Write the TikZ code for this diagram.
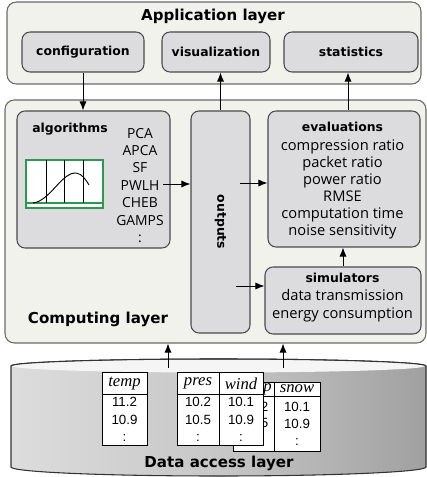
\documentclass[tikz,border=0pt]{standalone}
\usepackage{fontspec}
\setmainfont{Open Sans}
\newfontfamily\headfont{DejaVu Sans}
\newfontfamily\numfont{Liberation Sans}
\newfontfamily\colfont{Liberation Serif}
\usetikzlibrary{arrows.meta,positioning,calc}
\definecolor{LayFill}{HTML}{F2F2ED}
\definecolor{LayDraw}{HTML}{6A6A6A}
\definecolor{BoxFill}{HTML}{DCDCDF}
\definecolor{BoxDraw}{HTML}{4A4A4A}
\definecolor{PlotGreen}{HTML}{2A9A4C}
\pgfdeclarehorizontalshading{dbshade}{100bp}{color(0bp)=(black!5); color(50bp)=(black!22); color(88bp)=(black!45); color(100bp)=(black!33)}

\begin{document}
\begin{tikzpicture}[x=0.75pt,y=-0.75pt,
  lay/.style={draw=LayDraw,line width=0.8pt,rounded corners=7pt,fill=LayFill},
  b/.style={draw=BoxDraw,line width=0.8pt,rounded corners=6pt,fill=BoxFill},
  ttl/.style={font=\headfont\bfseries\fontsize{11.3}{13}\selectfont},
  hd/.style={font=\headfont\bfseries\fontsize{9.3}{11}\selectfont},
  lst/.style={align=center,inner sep=0pt,font=\fontsize{10.4}{13.1}\selectfont},
  col/.style={draw=black,line width=0.6pt,fill=white,inner sep=0pt},
  colhd/.style={inner sep=0pt,font=\colfont\itshape\fontsize{12.5}{14}\selectfont},
  val/.style={align=center,inner sep=0pt,font=\numfont\fontsize{10}{13}\selectfont},
  ar/.style={-{Latex[length=2.4mm,width=1.9mm]},black,line width=0.7pt}]
  \useasboundingbox (0,0) rectangle (427,477);

  % application layer
  \node[lay,minimum width=310.5pt,minimum height=61.5pt] (app) at (214,43) {};
  \node[ttl] (apptitle) at (213,16) {Application layer};
  \node[b,hd,minimum width=91.5pt,minimum height=30pt] (conf) at (83,52) {configuration};
  \node[b,hd,minimum width=81pt,minimum height=30pt] (vis) at (216,52) {visualization};
  \node[b,hd,minimum width=100.5pt,minimum height=30pt] (stat) at (351,52) {statistics};

  % computing layer
  \node[lay,minimum width=315.75pt,minimum height=182.25pt] (comp) at (215.5,221.5) {};
  \node[ttl] (comptitle) at (98,319) {Computing layer};
  \node[b,minimum width=114.75pt,minimum height=102.75pt] (algo) at (93.5,179.5) {};
  \node[hd] (algotitle) at (70,129) {algorithms};
  \node[lst] (alist) at (140,185.5) {PCA\\APCA\\SF\\PWLH\\CHEB\\GAMPS\\:};
  \draw[PlotGreen,fill=white,line width=0.8pt] (26,160) rectangle (103,208);
  \draw[PlotGreen,line width=0.8pt] (26,203) -- (103,203);
  \foreach \vx in {46,64,83}
    \draw[black,line width=0.6pt] (\vx,160) -- (\vx,203);
  \draw[black,line width=0.7pt] (33,203) .. controls (50,201) and (62,172) .. (76,173) .. controls (82,173.5) and (86,180) .. (89,185);
  \node[b,minimum width=44.25pt,minimum height=166.5pt] (out) at (220.5,222) {};
  \node[hd,rotate=-90] (outtitle) at (out.center) {outputs};
  \node[b,minimum width=114pt,minimum height=102pt] (eval) at (344,179) {};
  \node[hd] (evaltitle) at (342.5,127) {evaluations};
  \node[lst,font=\fontsize{11}{12.75}\selectfont] (elist) at (342.5,189.5) {compression ratio\\packet ratio\\power ratio\\RMSE\\computation time\\noise sensitivity};
  \node[b,minimum width=117pt,minimum height=50.25pt] (sim) at (343,300.5) {};
  \node[hd] (simtitle) at (342.5,278) {simulators};
  \node[lst,font=\fontsize{11}{13.5}\selectfont] (slist) at (342.5,306) {data transmission\\energy consumption};

  % data access layer
  \fill[shading=dbshade,draw=black!80,line width=0.8pt] (11,366) -- (11,467) arc[start angle=180,end angle=0,x radius=207.5,y radius=9] -- (426,366) arc[start angle=0,end angle=-180,x radius=207.5,y radius=7] -- cycle;
  \fill[black!4] (218.5,366) ellipse[x radius=206.5,y radius=6.5];
  \draw[black!80,line width=0.8pt] (426,366) arc[start angle=0,end angle=-180,x radius=207.5,y radius=7];
  \node[ttl] (dbtitle) at (219,463) {Data access layer};

  % table behind, mostly hidden
  \node[col,minimum width=30.75pt,minimum height=51.75pt] (tempb) at (253.5,416.5) {};
  \node[col,minimum width=34.5pt,minimum height=51.75pt] (snow) at (297,416.5) {};
  \draw[line width=0.6pt] ([yshift=-11.25pt]tempb.north west) -- ([yshift=-11.25pt]snow.north east);
  \node[colhd,anchor=east] at (272,389) {p};
  \node[val,anchor=east] at (268.5,406.5) {2};
  \node[val,anchor=east] at (268.5,423) {5};
  \node[val] at (256,441) {:};
  \node[colhd] at (297,389) {snow};
  \node[val] at (297,424) {10.1\\10.9\\:};

  \node[col,minimum width=33.75pt,minimum height=54.75pt] (temp) at (124.5,408.5) {};
  \draw[line width=0.6pt] ([yshift=-17.25pt]temp.north west) -- ([yshift=-17.25pt]temp.north east);
  \node[colhd] at (124.5,383.5) {temp};
  \node[val] at (124.5,419.5) {11.2\\10.9\\:};

  \node[col,minimum width=31.5pt,minimum height=54.75pt] (pres) at (198,408.5) {};
  \node[col,minimum width=33pt,minimum height=54.75pt] (wind) at (241,408.5) {};
  \draw[line width=0.6pt] ([yshift=-17.25pt]pres.north west) -- ([yshift=-17.25pt]wind.north east);
  \node[colhd] at (198,383.5) {pres};
  \node[colhd] at (241,383.5) {wind};
  \node[val] at (198,419.5) {10.2\\10.5\\:};
  \node[val] at (241,419.5) {10.1\\10.9\\:};

  % connectors
  \coordinate (pwlh) at (163,184);
  \coordinate (o1) at (240,183);
  \coordinate (o2) at (236,286);
  \coordinate (db1) at (168,368);
  \coordinate (db2) at (283,368);
  \draw[ar] (conf.south) -- (conf.south |- algo.north);
  \draw[ar] (out.north) -- (out.north |- vis.south);
  \draw[ar] ([xshift=3pt]eval.north) -- ([xshift=3pt]eval.north |- stat.south);
  \draw[ar] (pwlh) -- (pwlh -| out.west);
  \draw[ar] (o1) -- (o1 -| eval.west);
  \draw[ar] (o2) -- (o2 -| sim.west);
  \draw[ar] (sim.north) -- (sim.north |- eval.south);
  \draw[ar] (db1) -- (db1 |- comp.south);
  \draw[ar] (db2) -- (db2 |- comp.south);
\end{tikzpicture}
\end{document}
